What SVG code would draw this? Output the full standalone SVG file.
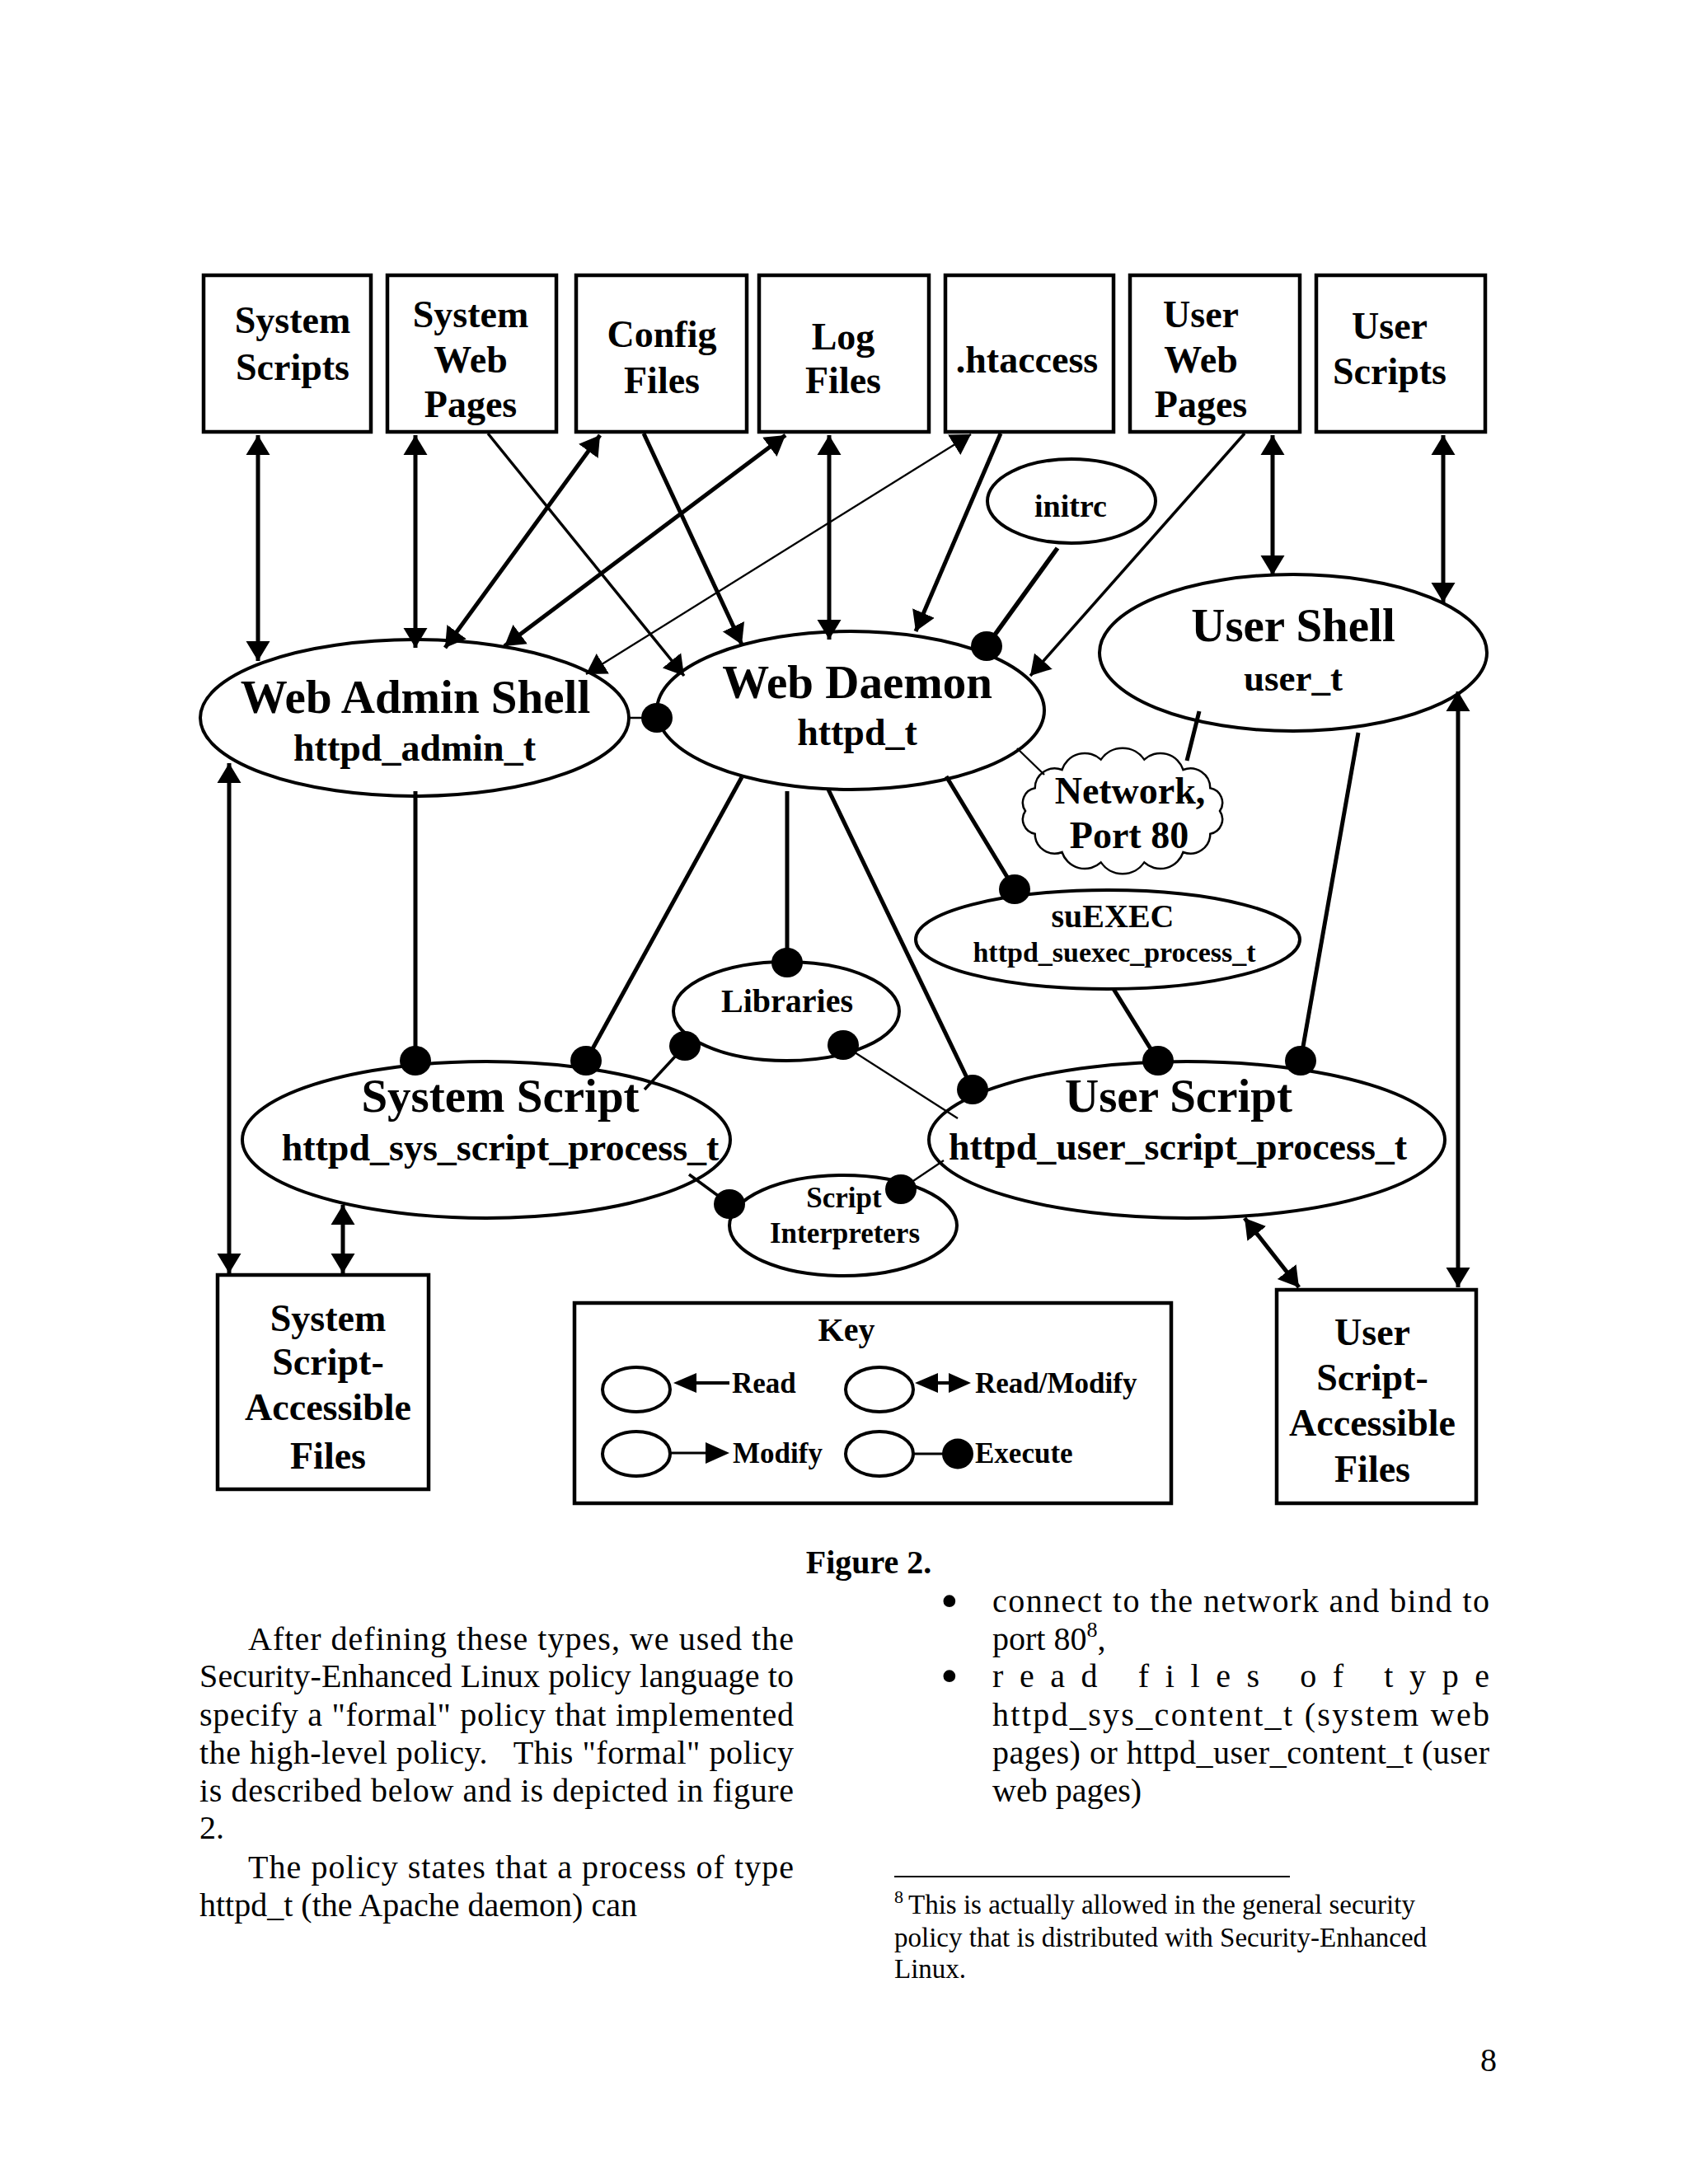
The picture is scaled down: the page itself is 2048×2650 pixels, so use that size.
<svg xmlns="http://www.w3.org/2000/svg" width="2048" height="2650" viewBox="0 0 2048 2650">
<style>
.bg{fill:#fff}
.box{fill:#fff;stroke:#000;stroke-width:4.5}
.node{fill:#fff;stroke:#000;stroke-width:4}
.t{font-family:"Liberation Serif","Times New Roman",serif;font-weight:bold;text-anchor:middle;fill:#000}
.f46{font-size:46px}
.f57{font-size:57px}
.ks{font-family:"Liberation Serif","Times New Roman",serif;font-weight:bold;font-size:35px;fill:#000}
.body{font-family:"Liberation Serif","Times New Roman",serif;font-size:40px;fill:#000}
.bul{font-family:"Liberation Serif","Times New Roman",serif;font-size:62px;fill:#000}
.fn{font-family:"Liberation Serif","Times New Roman",serif;font-size:33px;fill:#000}
.c{fill:none;stroke:#000;stroke-width:5}
.m{stroke-width:3.5}
.s{stroke-width:2.3}
.dot{fill:#000}
</style>
<defs>
<marker id="ah" markerUnits="userSpaceOnUse" markerWidth="26" markerHeight="30" viewBox="0 -15 26 30" refX="24" refY="0" orient="auto-start-reverse">
<path d="M0,-14.5 L24,0 L0,14.5 z" fill="#000"/>
</marker>
</defs>
<rect class="bg" x="0" y="0" width="2048" height="2650"/>

<g id="nodes">
<g id="system-scripts"><rect class="box" x="247" y="334" width="203" height="190"/>
<text class="t f46" x="355" y="404">System</text><text class="t f46" x="355" y="461">Scripts</text></g>
<g id="system-web-pages"><rect class="box" x="470" y="334" width="205" height="190"/>
<text class="t f46" x="571" y="397">System</text><text class="t f46" x="571" y="452">Web</text><text class="t f46" x="571" y="506">Pages</text></g>
<g id="config-files"><rect class="box" x="699" y="334" width="207" height="190"/>
<text class="t f46" x="803" y="421">Config</text><text class="t f46" x="803" y="477">Files</text></g>
<g id="log-files"><rect class="box" x="921" y="334" width="206" height="190"/>
<text class="t f46" x="1023" y="424">Log</text><text class="t f46" x="1023" y="477">Files</text></g>
<g id="htaccess"><rect class="box" x="1147" y="334" width="204" height="190"/>
<text class="t f46" x="1246" y="452">.htaccess</text></g>
<g id="user-web-pages"><rect class="box" x="1371" y="334" width="206" height="190"/>
<text class="t f46" x="1457" y="397">User</text><text class="t f46" x="1457" y="452">Web</text><text class="t f46" x="1457" y="506">Pages</text></g>
<g id="user-scripts"><rect class="box" x="1597" y="334" width="205" height="190"/>
<text class="t f46" x="1686" y="411">User</text><text class="t f46" x="1686" y="466">Scripts</text></g>

<g id="initrc"><ellipse class="node" cx="1300" cy="608" rx="102" ry="51"/>
<text class="t" style="font-size:38px" x="1299" y="627">initrc</text></g>

<g id="web-admin-shell"><ellipse class="node" cx="503" cy="871" rx="260" ry="95"/>
<text class="t f57" x="504" y="865">Web Admin Shell</text><text class="t f46" x="503" y="923">httpd_admin_t</text></g>

<g id="web-daemon"><ellipse class="node" cx="1032" cy="862" rx="235" ry="96"/>
<text class="t f57" x="1040" y="847">Web Daemon</text><text class="t f46" x="1040" y="904">httpd_t</text></g>

<g id="user-shell"><ellipse class="node" cx="1569" cy="792" rx="235" ry="95"/>
<text class="t f57" x="1569" y="778">User Shell</text><text class="t" style="font-size:45px" x="1569" y="838">user_t</text></g>

<g id="network"><path d="M1480,984 A18,18 0 0 1 1468.3,1011.8 A24,24 0 0 1 1435.5,1034 A29,29 0 0 1 1388.3,1046.4 A32,32 0 0 1 1335.7,1046.4 A29,29 0 0 1 1288.5,1034 A24,24 0 0 1 1255.7,1011.8 A18,18 0 0 1 1244,984 A18,18 0 0 1 1255.7,956.2 A24,24 0 0 1 1288.5,934 A29,29 0 0 1 1335.7,921.6 A32,32 0 0 1 1388.3,921.6 A29,29 0 0 1 1435.5,934 A24,24 0 0 1 1468.3,956.2 A18,18 0 0 1 1480,984 Z" fill="#fff" stroke="#000" stroke-width="2.5"/>
<text class="t f46" x="1371" y="975">Network,</text><text class="t f46" x="1370" y="1029">Port 80</text></g>

<g id="suexec"><ellipse class="node" cx="1344" cy="1140" rx="233" ry="60"/>
<text class="t" style="font-size:40px" x="1350" y="1125">suEXEC</text><text class="t" style="font-size:34px" x="1352" y="1167">httpd_suexec_process_t</text></g>

<g id="libraries"><ellipse class="node" cx="954" cy="1227" rx="137" ry="60"/>
<text class="t" style="font-size:40px" x="955" y="1228">Libraries</text></g>

<g id="system-script"><ellipse class="node" cx="590" cy="1383" rx="296" ry="95"/>
<text class="t f57" x="607" y="1349">System Script</text><text class="t f46" x="607" y="1408">httpd_sys_script_process_t</text></g>

<g id="user-script"><ellipse class="node" cx="1440" cy="1383" rx="313" ry="95"/>
<text class="t f57" x="1430" y="1349">User Script</text><text class="t f46" x="1429" y="1407">httpd_user_script_process_t</text></g>

<g id="script-interpreters"><ellipse class="node" cx="1023" cy="1487" rx="138" ry="61"/>
<text class="t" style="font-size:35px" x="1024" y="1465">Script</text><text class="t" style="font-size:35px" x="1025" y="1508">Interpreters</text></g>

<g id="system-script-files"><rect class="box" x="264" y="1547" width="256" height="260"/>
<text class="t f46" x="398" y="1615">System</text><text class="t f46" x="398" y="1668">Script-</text><text class="t f46" x="398" y="1723">Accessible</text><text class="t f46" x="398" y="1782">Files</text></g>

<g id="user-script-files"><rect class="box" x="1549" y="1565" width="242" height="259"/>
<text class="t f46" x="1665" y="1632">User</text><text class="t f46" x="1665" y="1687">Script-</text><text class="t f46" x="1665" y="1742">Accessible</text><text class="t f46" x="1665" y="1798">Files</text></g>

<g id="key"><rect class="box" x="697" y="1581" width="724" height="243"/>
<text class="t" style="font-size:40px" x="1027" y="1627">Key</text>
<ellipse class="node" cx="772" cy="1686" rx="41" ry="27"/>
<ellipse class="node" cx="1067" cy="1686" rx="41" ry="27"/>
<ellipse class="node" cx="772" cy="1764" rx="41" ry="27"/>
<ellipse class="node" cx="1067" cy="1764" rx="41" ry="27"/>
<line x1="845" y1="1678" x2="885" y2="1678" stroke="#000" stroke-width="4"/>
<path d="M817,1678 L845,1666 L845,1690 Z" fill="#000"/>
<line x1="1138" y1="1678" x2="1151" y2="1678" stroke="#000" stroke-width="4"/>
<path d="M1110,1678 L1138,1666 L1138,1690 Z M1178,1678 L1151,1666 L1151,1690 Z" fill="#000"/>
<line x1="814" y1="1763" x2="856" y2="1763" stroke="#000" stroke-width="3"/>
<path d="M885,1763 L856,1750 L856,1776 Z" fill="#000"/>
<line x1="1108" y1="1764" x2="1144" y2="1764" stroke="#000" stroke-width="3"/>
<ellipse class="dot" cx="1162" cy="1764" rx="19" ry="18.5"/>
<text class="ks" x="888" y="1690">Read</text>
<text class="ks" x="1183" y="1690">Read/Modify</text>
<text class="ks" x="889" y="1775">Modify</text>
<text class="ks" x="1183" y="1775">Execute</text>
</g>
</g>

<g id="connectors">
<path class="c" d="M313,528 V802" marker-start="url(#ah)" marker-end="url(#ah)"/>
<path class="c" d="M504,528 V786" marker-start="url(#ah)" marker-end="url(#ah)"/>
<path class="c" d="M1006,528 V776" marker-start="url(#ah)" marker-end="url(#ah)"/>
<path class="c" d="M1544,528 V698" marker-start="url(#ah)" marker-end="url(#ah)"/>
<path class="c" d="M1751,528 V731" marker-start="url(#ah)" marker-end="url(#ah)"/>
<path class="c" d="M278,926 V1545" marker-start="url(#ah)" marker-end="url(#ah)"/>
<path class="c" d="M416,1462 V1545" marker-start="url(#ah)" marker-end="url(#ah)"/>
<path class="c" d="M1769,839 V1562" marker-start="url(#ah)" marker-end="url(#ah)"/>
<path class="c" d="M728,528 L540,786" marker-start="url(#ah)" marker-end="url(#ah)"/>
<path class="c" d="M953,528 L612,784" marker-start="url(#ah)" marker-end="url(#ah)"/>
<path class="c s" d="M1178,527 L711,818" marker-start="url(#ah)" marker-end="url(#ah)"/>
<path class="c" d="M1510,1478 L1576,1562" marker-start="url(#ah)" marker-end="url(#ah)"/>
<path class="c m" d="M592,526 L830,820" marker-end="url(#ah)"/>
<path class="c" d="M781,526 L900,782" marker-end="url(#ah)"/>
<path class="c" d="M1214,526 L1111,766" marker-end="url(#ah)"/>
<path class="c m" d="M1510,526 L1250,820" marker-end="url(#ah)"/>

<path class="c" style="stroke-width:5.5" d="M1283,665 L1197,784"/>
<path class="c s" d="M763,871 L797,871"/>
<path class="c s" d="M1234,908 L1267,940"/>
<path class="c" d="M1455,863 L1440,923"/>
<path class="c" d="M1148,942 L1231,1079"/>
<path class="c" d="M955,960 V1168"/>
<path class="c" d="M900,943 L711,1287"/>
<path class="c" d="M1005,958 L1180,1322"/>
<path class="c" d="M504,960 V1287"/>
<path class="c" d="M1351,1200 L1405,1287"/>
<path class="c" d="M1648,889 L1578,1287"/>
<path class="c m" d="M782,1322 L831,1269"/>
<path class="c s" d="M1162,1357 L1023,1268"/>
<path class="c m" d="M836,1425 L885,1461"/>
<path class="c s" d="M1145,1408 L1093,1443"/>

<ellipse class="dot" cx="1197" cy="784" rx="19" ry="18"/>
<ellipse class="dot" cx="797" cy="871" rx="19" ry="18"/>
<ellipse class="dot" cx="1231" cy="1079" rx="19" ry="18"/>
<ellipse class="dot" cx="955" cy="1168" rx="19" ry="18"/>
<ellipse class="dot" cx="711" cy="1287" rx="19" ry="18"/>
<ellipse class="dot" cx="1180" cy="1322" rx="19" ry="18"/>
<ellipse class="dot" cx="504" cy="1287" rx="19" ry="18"/>
<ellipse class="dot" cx="1405" cy="1287" rx="19" ry="18"/>
<ellipse class="dot" cx="1578" cy="1287" rx="19" ry="18"/>
<ellipse class="dot" cx="831" cy="1269" rx="19" ry="18"/>
<ellipse class="dot" cx="1023" cy="1268" rx="19" ry="18"/>
<ellipse class="dot" cx="885" cy="1461" rx="19" ry="18"/>
<ellipse class="dot" cx="1093" cy="1443" rx="19" ry="18"/>
</g>

<g id="page-text">
<text class="t" style="font-size:40px" x="1054" y="1909">Figure 2.</text>
<text class="body" x="301" y="2002" textLength="662" lengthAdjust="spacing">After defining these types, we used the</text>
<text class="body" x="242" y="2047" textLength="721" lengthAdjust="spacing">Security-Enhanced Linux policy language to</text>
<text class="body" x="242" y="2094" textLength="721" lengthAdjust="spacing">specify a "formal" policy that implemented</text>
<text class="body" x="242" y="2140" textLength="721" lengthAdjust="spacing" xml:space="preserve">the high-level policy.   This "formal" policy</text>
<text class="body" x="242" y="2186" textLength="721" lengthAdjust="spacing">is described below and is depicted in figure</text>
<text class="body" x="242" y="2231">2.</text>
<text class="body" x="301" y="2279" textLength="662" lengthAdjust="spacing">The policy states that a process of type</text>
<text class="body" x="242" y="2325">httpd_t (the Apache daemon) can</text>

<text class="bul" x="1141" y="1963">•</text>
<text class="body" x="1204" y="1956" textLength="603" lengthAdjust="spacing">connect to the network and bind to</text>
<text class="body" x="1204" y="2002">port 80<tspan style="font-size:26px" dy="-16">8</tspan><tspan dy="16">,</tspan></text>
<text class="bul" x="1141" y="2054">•</text>
<text class="body" x="1204" y="2047" textLength="603" lengthAdjust="spacing">read files of type</text>
<text class="body" x="1204" y="2094" textLength="603" lengthAdjust="spacing">httpd_sys_content_t (system web</text>
<text class="body" x="1204" y="2140" textLength="603" lengthAdjust="spacing">pages) or httpd_user_content_t (user</text>
<text class="body" x="1204" y="2186">web pages)</text>

<line x1="1085" y1="2277" x2="1565" y2="2277" stroke="#000" stroke-width="2"/>
<text class="fn" style="font-size:22px" x="1085" y="2309">8</text>
<text class="fn" x="1102" y="2322">This is actually allowed in the general security</text>
<text class="fn" x="1085" y="2362">policy that is distributed with Security-Enhanced</text>
<text class="fn" x="1085" y="2400">Linux.</text>
<text class="body" x="1796" y="2513">8</text>
</g>
</svg>
